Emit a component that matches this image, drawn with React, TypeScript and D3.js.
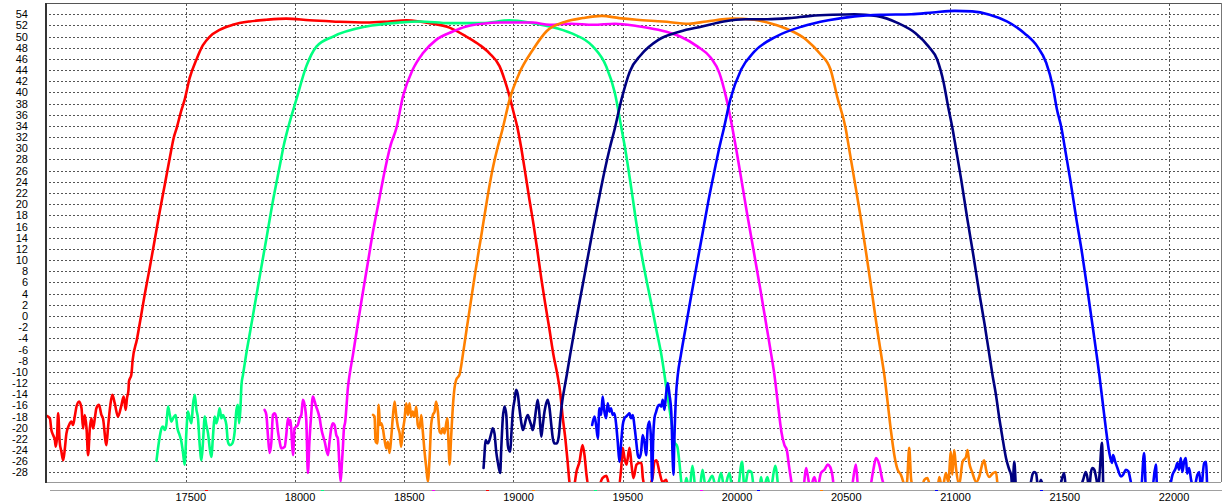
import React from 'react';
import * as d3 from 'd3';

type Pt = [number, number];

// Frequency (x) tick labels and level (y) tick labels
const xTicks: number[] = [17500, 18000, 18500, 19000, 19500, 20000, 20500, 21000, 21500, 22000];
const yTicks: number[] = [54, 52, 50, 48, 46, 44, 42, 40, 38, 36, 34, 32, 30, 28, 26, 24, 22, 20, 18, 16, 14, 12, 10, 8, 6, 4, 2, 0, -2, -4, -6, -8, -10, -12, -14, -16, -18, -20, -22, -24, -26, -28];

const seriesColors: string[] = ['#ff0000', '#00ff80', '#ff00ff', '#ff8000', '#000080', '#0000ff'];

const redSeries: Pt[] = [
  [16865,-17.9],[16878,-18.3],[16885,-20.4],[16893,-21.3],[16901,-22.2],[16905,-23.4],[16911,-21.6],[16916,-17.4],[16923,-22.5],[16931,-24.3],[16939,-25.8],[16946,-24.0],[16954,-21.0],[16966,-19.5],[16977,-18.9],[16984,-19.5],[16992,-18.0],[17000,-16.2],[17012,-15.3],[17023,-16.5],[17030,-20.1],[17038,-17.7],[17046,-20.1],[17053,-24.9],[17061,-20.1],[17068,-18.3],[17076,-20.1],[17084,-18.3],[17091,-16.5],[17103,-15.9],[17114,-17.7],[17121,-18.3],[17137,-23.1],[17144,-20.1],[17155,-15.9],[17164,-14.1],[17175,-15.6],[17190,-18.0],[17206,-15.9],[17216,-14.4],[17225,-16.8],[17231,-14.7],[17238,-13.2],[17240,-11.7],[17251,-10.5],
  [17257,-7.9],[17276,-4.3],[17294,-0.3],[17312,3.8],[17335,8.6],[17358,13.6],[17381,18.7],[17404,23.5],[17427,28.3],[17445,31.9],[17459,33.7],[17477,36.4],[17495,38.7],[17518,42.6],[17549,45.9],[17578,48.4],[17610,50.0],[17655,51.2],[17715,52.1],[17793,52.7],[17869,53.0],[17960,53.2],[18067,52.9],[18172,52.7],[18326,52.5],[18433,52.7],[18509,52.9],[18570,52.7],[18630,52.3],[18707,51.6],[18784,50.0],[18845,48.5],[18890,47.0],[18936,44.7],[18959,42.3],[18982,39.3],[19000,36.5],[19018,33.7],[19037,29.7],[19055,25.3],[19073,20.8],[19092,16.3],[19110,11.5],[19128,6.5],[19146,2.0],[19165,-2.5],[19183,-7.0],[19201,-10.5],[19215,-14.1],[19224,-17.7],[19238,-22.2],[19247,-25.8],[19256,-29.7],
  [19265,-32],[19279,-30.2],[19288,-27.9],[19302,-26.1],[19316,-23.1],[19325,-24.9],[19334,-28.4],[19348,-31.1],[19384,-31.1],[19407,-29.0],[19425,-28.6],[19444,-31.1],[19480,-30.8],[19493,-27.2],[19500,-23.6],[19508,-25.4],[19517,-26.6],[19531,-23.6],[19540,-26.6],[19549,-29.0],[19563,-26.6],[19576,-26.3],[19586,-26.3],[19592,-29.0],[19608,-31.1],[19636,-29.0],[19645,-26.1],[19654,-25.8],[19668,-27.9],[19682,-29.7],[19700,-29.3],[19709,-31.5]
];

const greenSeries: Pt[] = [
  [17366,-25.9],[17373,-23.7],[17381,-21.6],[17389,-20.1],[17396,-19.8],[17404,-20.4],[17411,-19.5],[17419,-16.2],[17427,-17.7],[17434,-18.9],[17442,-18.3],[17454,-17.7],[17462,-20.1],[17472,-21.3],[17480,-22.5],[17487,-24.3],[17495,-26.6],[17503,-20.7],[17510,-17.1],[17518,-18.3],[17526,-19.2],[17533,-15.9],[17541,-14.1],[17549,-16.8],[17556,-18.3],[17564,-23.1],[17572,-25.8],[17579,-22.5],[17587,-18.0],[17594,-19.5],[17602,-21.0],[17610,-23.7],[17617,-25.2],[17625,-21.3],[17632,-18.0],[17640,-19.2],[17648,-18.0],[17655,-16.5],[17663,-18.3],[17670,-17.7],[17678,-18.3],[17686,-19.5],[17693,-22.5],[17701,-23.1],[17713,-22.8],[17724,-20.7],[17732,-16.8],[17739,-15.9],[17744,-19.2],[17750,-16.8],[17755,-12.3],[17762,-10.5],
  [17776,-7.0],[17796,-2.5],[17820,2.9],[17844,8.3],[17872,14.5],[17900,20.8],[17927,26.2],[17949,30.6],[17968,33.6],[18006,38.7],[18052,44.7],[18098,48.2],[18174,50.0],[18326,51.8],[18479,52.5],[18570,52.7],[18707,52.4],[18858,52.4],[18982,52.9],[19087,52.4],[19165,51.8],[19264,50.6],[19364,48.2],[19424,44.7],[19464,39.9],[19494,33.6],[19512,29.7],[19540,22.6],[19567,15.4],[19599,8.3],[19627,2.9],[19654,-2.5],[19677,-7.0],[19691,-10.5],[19704,-14.1],[19713,-16.4],[19727,-20.0],[19737,-22.5],[19750,-23.4],[19759,-26.1],[19768,-29.7],
  [19778,-32],[19791,-29.0],[19805,-31.1],[19819,-26.8],[19833,-30.8],[19851,-31.1],[19865,-27.5],[19878,-30.2],[19892,-29.7],[19910,-28.6],[19929,-31.1],[19950,-28.1],[19965,-30.8],[19988,-28.1],[20002,-30.8],[20025,-31.1],[20046,-26.1],[20057,-30.8],[20075,-27.7],[20089,-27.9],[20102,-31.1],[20125,-31.1],[20133,-28.8],[20143,-31.1],[20162,-28.8],[20176,-31.1],[20198,-26.8],[20212,-31.1]
];

const magentaSeries: Pt[] = [
  [17861,-16.8],[17869,-17.7],[17876,-21.3],[17884,-24.5],[17892,-22.5],[17899,-17.7],[17907,-17.4],[17915,-18.3],[17922,-20.7],[17930,-22.5],[17937,-23.7],[17953,-23.4],[17960,-21.3],[17968,-18.3],[17975,-19.5],[17980,-18.6],[17986,-22.5],[17991,-24.9],[17998,-20.1],[18006,-19.8],[18013,-19.5],[18021,-18.3],[18029,-17.7],[18036,-15.0],[18044,-15.9],[18052,-18.9],[18059,-28.1],[18066,-22.5],[18074,-17.7],[18082,-14.4],[18090,-15.3],[18097,-16.2],[18105,-17.1],[18113,-18.3],[18120,-20.1],[18136,-22.5],[18151,-24.9],[18158,-22.5],[18166,-20.1],[18173,-19.2],[18181,-19.5],[18189,-21.3],[18196,-21.9],[18204,-27.2],[18209,-29.6],[18215,-26.1],[18219,-23.7],[18224,-20.1],[18230,-18.9],[18235,-16.5],[18242,-12.9],[18250,-10.5],
  [18265,-7.0],[18283,-2.5],[18305,2.9],[18332,9.2],[18357,15.1],[18385,20.8],[18412,26.2],[18438,30.6],[18464,33.6],[18494,39.3],[18539,44.1],[18585,47.0],[18646,49.4],[18722,50.9],[18784,51.8],[18860,52.3],[18936,52.5],[19087,52.5],[19165,52.1],[19264,52.3],[19364,52.1],[19464,52.3],[19563,51.9],[19663,51.2],[19763,50.0],[19843,48.2],[19903,46.2],[19942,43.5],[19972,39.3],[20002,33.6],[20020,29.7],[20043,24.4],[20070,18.1],[20102,11.0],[20130,4.7],[20157,-1.6],[20180,-7.0],[20194,-10.5],[20208,-15.0],[20226,-20.7],[20240,-23.1],[20251,-24.0],[20260,-26.6],[20272,-29.7],[20281,-32],
  [20290,-31.1],[20326,-30.8],[20339,-27.2],[20346,-28.4],[20358,-30.8],[20377,-28.8],[20391,-30.8],[20407,-28.1],[20423,-27.5],[20438,-26.6],[20449,-27.0],[20459,-28.4],[20468,-30.8],[20514,-31.1],[20546,-30.8],[20567,-26.6],[20578,-30.8],[20628,-31.1],[20647,-27.5],[20659,-25.4],[20674,-26.6],[20688,-29.3],[20702,-30.8]
];

const orangeSeries: Pt[] = [
  [18357,-17.7],[18364,-18.0],[18369,-22.5],[18377,-22.8],[18383,-15.9],[18389,-19.5],[18395,-19.2],[18402,-20.1],[18410,-22.2],[18418,-23.7],[18425,-22.5],[18433,-24.5],[18440,-21.9],[18448,-18.0],[18456,-15.3],[18463,-17.7],[18471,-19.8],[18479,-21.0],[18486,-23.4],[18494,-20.4],[18501,-18.6],[18509,-15.6],[18517,-17.7],[18524,-15.6],[18532,-18.0],[18539,-17.1],[18547,-18.0],[18555,-16.2],[18562,-19.5],[18570,-20.1],[18578,-17.7],[18585,-20.7],[18593,-24.3],[18601,-27.2],[18608,-29.6],[18616,-25.4],[18623,-19.5],[18631,-17.7],[18639,-17.1],[18646,-15.3],[18654,-17.1],[18662,-20.7],[18669,-21.0],[18677,-20.1],[18684,-21.0],[18697,-18.3],[18703,-23.1],[18707,-26.6],[18715,-21.3],[18722,-16.5],[18730,-12.9],[18738,-11.4],[18753,-10.5],
  [18768,-7.0],[18785,-2.5],[18806,2.9],[18827,8.3],[18853,14.5],[18879,20.8],[18904,26.2],[18927,30.1],[18951,33.6],[18982,38.7],[19027,43.5],[19088,47.6],[19150,50.9],[19241,52.7],[19317,53.3],[19404,53.7],[19484,53.3],[19564,53.0],[19683,52.7],[19803,52.3],[19883,52.7],[20002,53.2],[20102,53.0],[20182,52.3],[20262,51.2],[20341,49.4],[20401,47.0],[20451,44.1],[20481,39.3],[20520,33.6],[20537,29.7],[20560,24.4],[20587,18.1],[20615,11.0],[20642,3.8],[20665,-2.5],[20683,-7.0],[20697,-10.5],[20711,-15.0],[20728,-20.7],[20743,-24.9],[20758,-27.5],[20773,-28.4],[20784,-29.7],
  [20793,-31.1],[20802,-29.3],[20811,-23.6],[20820,-29.3],[20834,-31.1],[20866,-31.1],[20880,-29.3],[20894,-29.0],[20912,-31.1],[20939,-31.1],[20949,-28.8],[20962,-31.1],[20979,-28.1],[20990,-29.7],[21002,-24.3],[21008,-28.4],[21017,-24.0],[21026,-27.5],[21040,-30.2],[21055,-26.1],[21071,-25.2],[21078,-24.0],[21086,-26.3],[21099,-27.9],[21118,-29.7],[21131,-28.8],[21147,-26.3],[21154,-25.8],[21163,-27.5],[21177,-28.8],[21192,-28.2],[21208,-27.9],[21214,-29.7]
];

const navySeries: Pt[] = [
  [18863,-27.2],[18867,-24.9],[18872,-22.2],[18883,-22.8],[18890,-22.2],[18898,-21.0],[18905,-20.1],[18913,-21.0],[18921,-24.3],[18928,-26.1],[18939,-28.1],[18944,-23.7],[18951,-18.3],[18959,-16.2],[18967,-17.7],[18974,-23.1],[18979,-24.0],[18985,-24.3],[18990,-21.3],[18997,-17.1],[19005,-15.0],[19012,-13.2],[19020,-14.1],[19027,-16.5],[19035,-18.9],[19043,-20.4],[19051,-19.5],[19058,-18.3],[19066,-17.7],[19073,-18.6],[19081,-19.5],[19088,-20.4],[19096,-18.9],[19104,-16.5],[19111,-15.0],[19119,-17.7],[19127,-21.6],[19134,-19.5],[19142,-17.1],[19150,-15.6],[19157,-15.0],[19165,-16.5],[19173,-19.5],[19180,-21.9],[19188,-22.8],[19198,-22.8],[19207,-21.6],[19214,-18.6],[19223,-15.3],[19233,-12.9],[19244,-10.5],
  [19259,-7.0],[19279,-2.5],[19304,2.9],[19334,9.2],[19363,15.4],[19390,20.8],[19416,25.8],[19441,30.1],[19464,33.6],[19494,38.7],[19533,43.8],[19583,46.7],[19663,49.4],[19763,50.9],[19863,51.8],[19962,52.7],[20062,53.1],[20162,53.1],[20262,53.3],[20361,53.7],[20461,53.9],[20561,54.0],[20660,53.7],[20760,52.4],[20840,50.6],[20900,48.2],[20939,45.9],[20969,41.7],[20989,37.5],[21009,33.6],[21026,29.7],[21049,24.4],[21076,17.6],[21104,11.0],[21131,4.3],[21154,-1.0],[21173,-5.7],[21192,-10.5],[21208,-14.1],[21223,-18.2],[21238,-21.8],[21254,-25.4],[21269,-27.5],[21278,-28.6],[21283,-31.1],[21292,-26.1],
  [21301,-31.1],[21351,-31.1],[21368,-29.7],[21375,-28.4],[21383,-27.9],[21392,-28.2],[21401,-30.8],[21414,-29.3],[21429,-31.1],[21475,-31.1],[21497,-30.8],[21520,-28.1],[21529,-30.8],[21589,-31.1],[21607,-29.3],[21619,-27.9],[21625,-28.6],[21635,-30.8],[21643,-27.9],[21650,-27.2],[21658,-27.5],[21667,-29.0],[21676,-30.8],[21683,-27.9],[21693,-22.7],[21699,-30.8]
];

const blueSeries: Pt[] = [
  [19360,-19.5],[19371,-18.0],[19378,-19.5],[19386,-21.9],[19393,-16.5],[19401,-17.7],[19408,-14.4],[19416,-17.1],[19424,-18.3],[19431,-15.6],[19439,-17.1],[19446,-16.5],[19454,-17.7],[19462,-17.4],[19470,-19.5],[19477,-22.5],[19485,-26.1],[19493,-22.5],[19500,-19.5],[19508,-18.3],[19515,-18.0],[19523,-17.7],[19531,-17.4],[19538,-18.3],[19546,-17.7],[19553,-19.5],[19561,-22.2],[19569,-24.9],[19576,-25.4],[19584,-24.3],[19591,-21.3],[19599,-22.5],[19607,-24.9],[19614,-20.1],[19622,-18.9],[19630,-22.5],[19634,-29.6],[19640,-21.3],[19645,-18.3],[19653,-17.1],[19660,-16.2],[19668,-15.9],[19676,-16.2],[19683,-15.0],[19691,-16.8],[19698,-14.1],[19706,-12.0],[19714,-14.1],[19722,-17.1],[19729,-26.1],[19732,-28.4],[19736,-22.5],[19744,-14.1],[19752,-10.5],
  [19766,-7.0],[19786,-2.5],[19810,2.9],[19839,9.2],[19868,15.4],[19895,21.2],[19921,26.2],[19942,30.1],[19963,33.6],[19992,38.7],[20042,44.1],[20102,47.3],[20202,50.0],[20321,51.8],[20441,52.9],[20561,53.6],[20680,53.9],[20820,54.0],[20919,54.3],[21019,54.6],[21099,54.5],[21179,53.9],[21258,52.7],[21338,50.6],[21398,48.2],[21438,45.3],[21468,41.1],[21487,37.0],[21508,33.6],[21525,29.7],[21548,24.4],[21575,17.6],[21603,11.0],[21630,3.8],[21653,-2.5],[21669,-7.0],[21681,-10.5],[21696,-15.3],[21711,-20.1],[21726,-24.3],[21739,-26.3],[21744,-24.9],[21754,-26.1],[21764,-27.2],[21780,-28.7],[21790,-28.4],[21802,-27.5],[21814,-27.8],[21825,-29.6],
  [21836,-31.5],[21872,-31.1],[21886,-24.5],[21895,-31.1],[21923,-30.8],[21940,-26.6],[21946,-31.1],[22001,-30.8],[22016,-28.4],[22031,-27.2],[22038,-26.3],[22046,-27.5],[22054,-25.4],[22061,-27.9],[22069,-26.1],[22077,-25.4],[22083,-28.2],[22092,-27.2],[22101,-29.3],[22115,-30.8],[22130,-28.4],[22138,-27.9],[22147,-30.8],[22161,-26.3],[22169,-26.1],[22175,-31.1]
];

const allSeries: Pt[][] = [redSeries, greenSeries, magentaSeries, orangeSeries, navySeries, blueSeries];

// small coloured marks on the lower axis line
const axisMarkFreqs: number[] = [17594, 18123, 18631, 18880, 19088, 19371, 19859, 20117, 20407, 20933, 21414];
const axisMarkColors: string[] = ['#ff0000', '#00ff80', '#ff00ff', '#ff0000', '#ff8000', '#00ff80', '#ff00ff', '#0000ff', '#ff8000', '#0000ff', '#0000ff'];

export default function App() {
  const W = 1230;
  const H = 504;
  const left = 47, top = 3, right = 1221, bottom = 482;
  const x = d3.scaleLinear().domain([16865, 22238]).range([left, right]);
  const y = d3.scaleLinear().domain([-29.7, 56]).range([bottom, top]);
  const line = d3.line<Pt>().x(d => x(d[0])).y(d => y(d[1])).curve(d3.curveMonotoneX);
  const font = "'Liberation Sans', Arial, sans-serif";

  return (
    <div style={{ position: 'absolute', left: 0, top: 0 }}>
      <svg width={W} height={H} style={{ display: 'block', background: '#ffffff' }} fontFamily={font}>
        <defs>
          <clipPath id="plotClip">
            <rect x={left} y={top} width={right - left} height={bottom - top} />
          </clipPath>
        </defs>
        <rect x={0} y={0} width={W} height={H} fill="#ffffff" />
        {/* grid */}
        <g stroke="#555" strokeWidth={1} strokeDasharray="2,2" shapeRendering="crispEdges">
          {yTicks.map(v => (
            <line key={'h' + v} x1={left + 2} x2={right - 1} y1={Math.round(y(v)) + 0.5} y2={Math.round(y(v)) + 0.5} />
          ))}
          {xTicks.map(v => (
            <line key={'v' + v} x1={Math.round(x(v)) + 0.5} x2={Math.round(x(v)) + 0.5} y1={top + 1} y2={bottom} />
          ))}
        </g>
        {/* series */}
        <g clipPath="url(#plotClip)" fill="none" strokeWidth={2.6} strokeLinejoin="round" strokeLinecap="round">
          {allSeries.map((s, i) => (
            <path key={'s' + i} d={line(s) || ''} stroke={seriesColors[i]} />
          ))}
        </g>
        {/* frame */}
        <g shapeRendering="crispEdges">
          <line x1={left - 2} x2={right} y1={top + 0.5} y2={top + 0.5} stroke="#555" strokeWidth={1} />
          <line x1={right + 0.5} x2={right + 0.5} y1={top} y2={bottom} stroke="#777" strokeWidth={1} />
          <line x1={left} x2={right} y1={bottom + 0.5} y2={bottom + 0.5} stroke="#999" strokeWidth={1} />
          <line x1={left - 1} x2={left - 1} y1={top} y2={bottom + 1} stroke="#333" strokeWidth={2} />
          <line x1={50} x2={right + 1} y1={490.5} y2={490.5} stroke="#a0a0a0" strokeWidth={1} />
        </g>
        <g shapeRendering="crispEdges">
          {axisMarkFreqs.map((f, i) => (
            <line key={'m' + i} x1={x(f) - 1} x2={x(f) + 2} y1={490.5} y2={490.5} stroke={axisMarkColors[i]} strokeWidth={1} />
          ))}
        </g>
        {/* y labels */}
        <g fontSize={11} fill="#000" textAnchor="end">
          {yTicks.map(v => (
            <text key={'yl' + v} x={28} y={y(v) + 4}>{v}</text>
          ))}
        </g>
        {/* x labels */}
        <g fontSize={11} fill="#000" textAnchor="middle">
          {xTicks.map(v => (
            <text key={'xl' + v} x={x(v) + 5} y={501}>{v}</text>
          ))}
        </g>
      </svg>
    </div>
  );
}
